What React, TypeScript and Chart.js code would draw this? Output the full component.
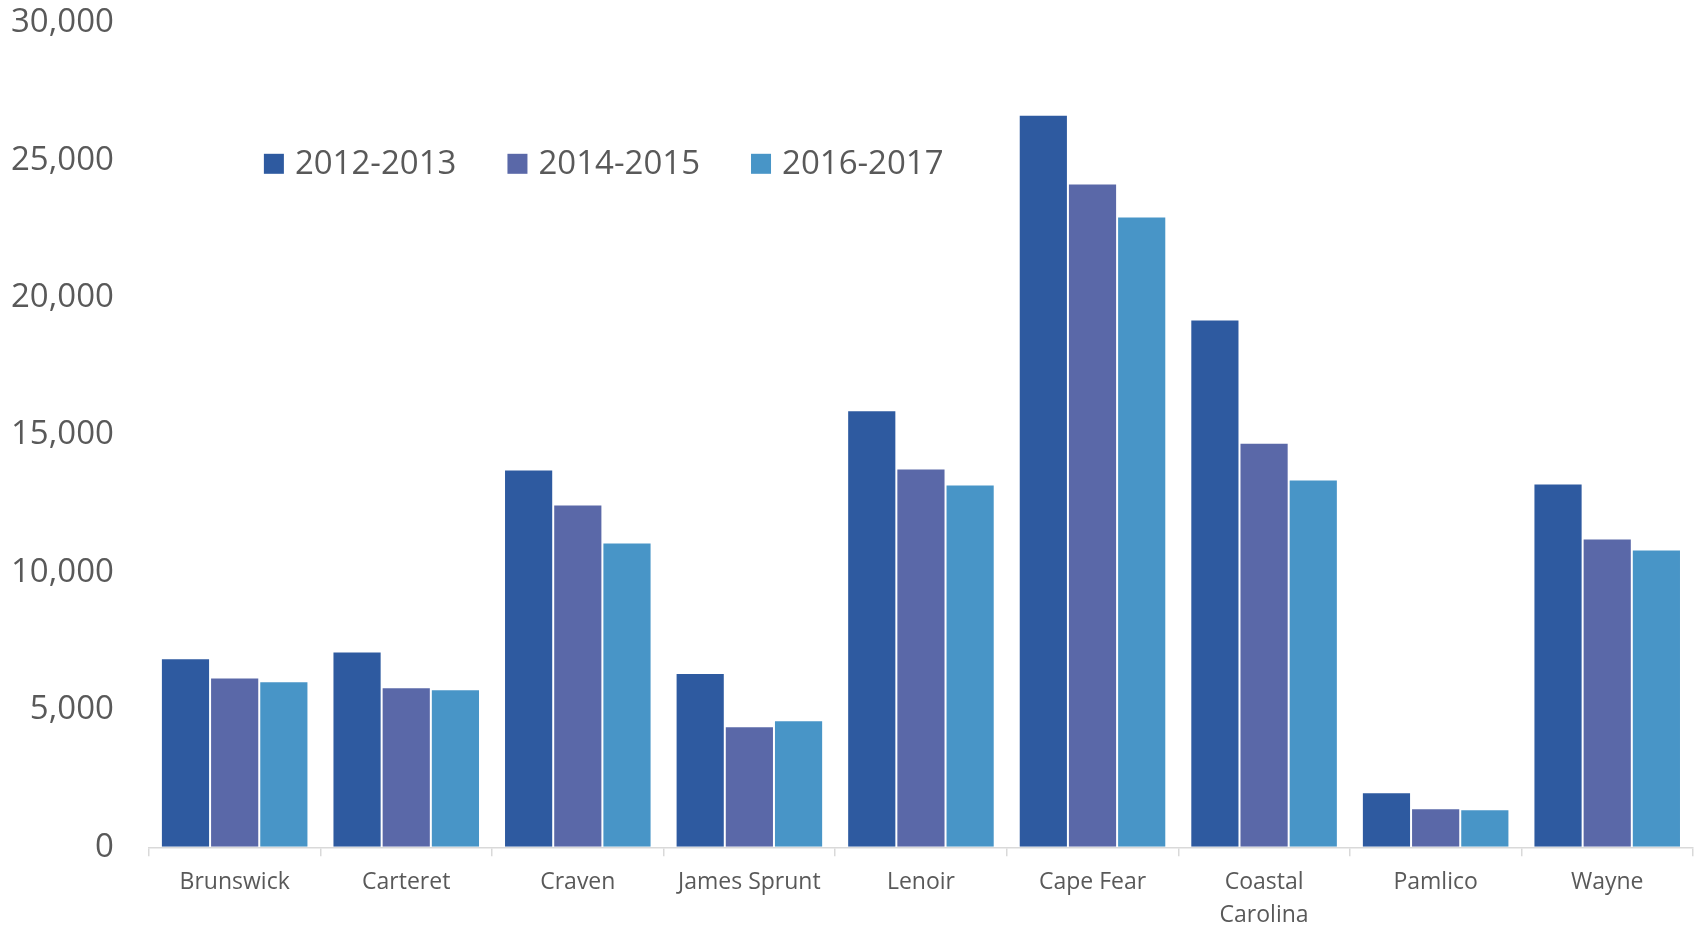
import React, { useEffect, useRef } from 'react';
import { Chart, registerables, Plugin } from 'chart.js';

Chart.register(...registerables);

const colleges: (string | string[])[] = [
  'Brunswick',
  'Carteret',
  'Craven',
  'James Sprunt',
  'Lenoir',
  'Cape Fear',
  ['Coastal', 'Carolina'],
  'Pamlico',
  'Wayne'
];

const seriesLabels = ['2012-2013', '2014-2015', '2016-2017'];
const seriesColors = ['#2E5AA0', '#5A68A8', '#4895C7'];

const values2012 = [6880, 7120, 13750, 6340, 15900, 26650, 19200, 2000, 13240];
const values2014 = [6180, 5820, 12470, 4400, 13780, 24150, 14720, 1420, 11240];
const values2016 = [6040, 5750, 11090, 4620, 13200, 22950, 13380, 1380, 10840];

const yTicks = [0, 5000, 10000, 15000, 20000, 25000, 30000];

const FONT = '"Open Sans", "DejaVu Sans", sans-serif';
const TEXT = '#595959';

// legend drawn inside the plot, near the top left
const innerLegend: Plugin<'bar'> = {
  id: 'innerLegend',
  afterDraw(chart) {
    const { ctx, chartArea } = chart;
    const box = 20;
    let x = chartArea.left + 115;
    const y = chartArea.top + 141;
    ctx.save();
    ctx.font = `33px ${FONT}`;
    ctx.textBaseline = 'middle';
    chart.data.datasets.forEach((ds) => {
      ctx.fillStyle = ds.backgroundColor as string;
      ctx.fillRect(x, y - box / 2, box, box);
      ctx.fillStyle = TEXT;
      const label = ds.label || '';
      ctx.fillText(label, x + box + 11, y + 1);
      x += box + 11 + ctx.measureText(label).width + 51;
    });
    ctx.restore();
  }
};

export default function App() {
  const canvasRef = useRef<HTMLCanvasElement>(null);

  useEffect(() => {
    document.body.style.margin = '0';
    if (!canvasRef.current) return;

    const chart = new Chart(canvasRef.current, {
      type: 'bar',
      data: {
        labels: colleges,
        datasets: [values2012, values2014, values2016].map((data, i) => ({
          label: seriesLabels[i],
          data,
          backgroundColor: seriesColors[i],
          borderColor: 'rgba(255,255,255,0.12)',
          borderWidth: 1,
          categoryPercentage: 0.86,
          barPercentage: 1
        }))
      },
      options: {
        animation: false,
        responsive: true,
        maintainAspectRatio: false,
        layout: { padding: { top: 0, left: 8, right: 5, bottom: -15 } },
        plugins: {
          legend: { display: false },
          tooltip: { enabled: false }
        },
        scales: {
          x: {
            grid: {
              offset: true,
              drawOnChartArea: false,
              drawTicks: true,
              tickLength: 9,
              color: '#d9d9d9',
              lineWidth: 1.5
            },
            border: { color: '#d9d9d9', width: 1.5 },
            ticks: {
              color: TEXT,
              font: { family: FONT, size: 23, lineHeight: 1.45 },
              padding: 9,
              maxRotation: 0,
              autoSkip: false
            }
          },
          y: {
            min: 0,
            max: 30000,
            afterBuildTicks: (axis) => {
              axis.ticks = yTicks.map((value) => ({ value }));
            },
            // invisible tick marks give the gap between labels and bars
            grid: {
              display: true,
              drawOnChartArea: false,
              drawTicks: true,
              tickLength: 32,
              color: 'rgba(0,0,0,0)'
            },
            border: { display: false },
            ticks: {
              color: TEXT,
              font: { family: FONT, size: 33 },
              padding: 3,
              callback: (v) => Number(v).toLocaleString('en-US')
            }
          }
        }
      },
      plugins: [innerLegend]
    });

    return () => chart.destroy();
  }, []);

  return (
    <div style={{ width: '100vw', height: '100vh', position: 'relative' }}>
      <canvas ref={canvasRef} />
    </div>
  );
}
